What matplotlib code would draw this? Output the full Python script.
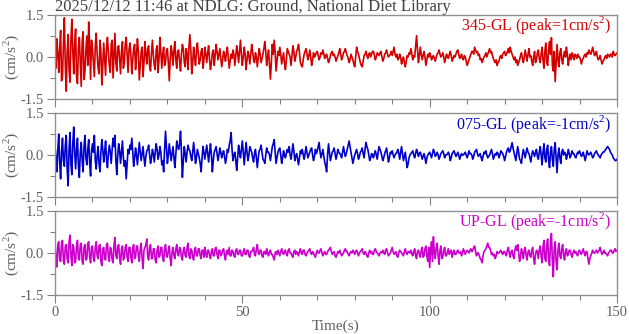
import matplotlib.pyplot as plt
import numpy as np
from matplotlib.ticker import MultipleLocator

DT = 0.25  # sample step (s)

# 345-GL, cm/s^2, one value every 0.25 s from 0 to 150 s
ns_345 = [
    0.05, -0.4, 0.65, 0.1, -0.55, 0.3, 0.95, -0.85, -0.7, 0.5, 1.40, -0.3, -1.22, 0.2, 0.8, -0.45, -0.9, 0.6, 1.35, 0.2,
    -0.6, 0.45, 1.0, -0.7, -0.95, 0.3, 0.7, -0.2, -1.05, 0.55, 0.9, -0.8, -0.5, 0.25, 0.75, -0.3, 1.25, 0.4, -0.8, 0.6,
    0.3, -0.2, -0.7, 0.4, 0.85, 0.1, -0.4, -0.6, 0.6, 0.2, -1.0, -0.3, 0.5, -0.1, -0.65, 0.3, 0.7, 0.15, -0.3, -0.55,
    0.45, 0.6, -0.75, 0.1, 0.85, -0.2, -0.5, 0.35, 0.4, -0.1, -0.6, 0.2, 0.55, -0.4, -0.2, 0.45, 0.7, 0.1, -0.55, 0.25,
    0.5, 0.1, -0.6, -0.1, 0.3, 0.45, -0.45, 0.05, 0.65, 0.2, -0.82, -0.3, 0.2, 0.35, -0.7, -0.2, 0.55, 0.1, -0.25, 0.3,
    0.4, -0.35, -0.5, 0.15, 0.6, 0.05, -0.3, -0.45, 0.25, 0.4, -0.55, -0.1, 0.7, 0.2, -0.4, 0.1, 0.35, -0.3, -0.2, 0.25,
    0.3, -0.2, -0.85, -0.1, 0.4, 0.15, -0.3, 0.25, 0.55, -0.1, -0.4, 0.2, 0.25, -0.15, -0.5, 0.1, 0.45, 0.3, -0.2, -0.35,
    0.3, 0.1, -0.45, 0.35, 0.8, 0.25, -0.6, -0.2, 0.35, 0.0, -0.3, 0.2, 0.5, 0.1, -0.25, -0.1, 0.2, 0.3, -0.4, -0.1,
    0.35, 0.1, -0.2, 0.15, 0.4, -0.1, -0.45, -0.2, 0.15, 0.25, -0.3, 0.05, 0.45, 0.2, -0.1, 0.1, 0.3, -0.05, -0.35, -0.1,
    0.2, 0.05, -0.15, 0.15, 0.35, 0.0, -0.4, -0.15, 0.1, -0.05, 0.25, 0.1, -0.3, 0.05, 0.4, 0.15, -0.2, 0.2, 0.6, 0.1,
    -0.3, 0.0, 0.35, 0.1, -0.45, -0.1, 0.2, 0.05, -0.25, 0.1, 0.45, 0.2, -0.1, -0.2, 0.15, 0.0, -0.35, -0.05, 0.3, 0.1,
    -0.2, -0.05, 0.1, 0.3, 0.55, 0.2, -0.3, 0.0, 0.25, -0.3, -0.79, -0.2, 0.45, 0.1, 0.6, 0.2, -0.5, -0.15, 0.2, 0.05,
    0.35, 0.1, -0.25, -0.05, 0.15, -0.2, -0.45, -0.1, 0.3, 0.2, 0.1, 0.0, -0.3, 0.05, 0.4, 0.2, -0.15, 0.0, 0.2, 0.3,
    0.45, 0.15, -0.2, -0.3, -0.35, -0.1, 0.1, 0.2, 0.3, 0.1, -0.1, 0.05, 0.25, 0.0, -0.3, -0.1, 0.15, 0.0, 0.05, 0.15,
    0.2, 0.05, -0.1, 0.0, 0.15, 0.1, 0.25, 0.1, -0.05, 0.05, 0.1, -0.05, -0.2, -0.1, 0.05, 0.15, 0.2, 0.05, 0.1, 0.0,
    -0.15, -0.05, 0.05, 0.15, 0.3, 0.1, -0.1, 0.0, 0.15, 0.2, 0.3, 0.15, 0.05, -0.05, -0.2, -0.1, 0.1, 0.0, -0.1, -0.25,
    -0.35, 0.0, 0.35, 0.2, 0.1, -0.05, -0.2, -0.3, -0.35, -0.15, 0.05, 0.1, 0.2, 0.05, -0.05, 0.1, 0.15, 0.0, 0.1, 0.2,
    0.2, 0.05, -0.1, 0.0, 0.15, 0.1, 0.05, 0.15, 0.2, 0.0, -0.15, -0.05, 0.1, 0.15, 0.25, 0.1, 0.0, 0.05, 0.1, 0.2,
    0.05, 0.2, 0.35, 0.1, 0.0, 0.1, -0.1, -0.05, 0.1, 0.0, -0.25, -0.1, 0.0, -0.2, -0.35, -0.15, 0.05, 0.0, 0.15, 0.1,
    0.3, 0.1, -0.1, 0.05, 0.0, 0.4, 0.76, 0.3, -0.2, 0.05, 0.35, 0.1, -0.1, 0.05, 0.2, 0.0, -0.3, -0.1, 0.1, 0.0,
    0.15, 0.05, -0.1, 0.0, 0.05, -0.05, -0.15, 0.0, 0.1, 0.15, 0.25, 0.1, 0.0, 0.05, 0.15, 0.0, -0.2, -0.05, 0.1, 0.0,
    -0.05, 0.1, 0.2, 0.05, -0.15, -0.05, 0.05, 0.0, 0.1, 0.2, 0.25, 0.1, -0.05, 0.0, 0.1, -0.05, -0.1, 0.05, 0.0, -0.15,
    -0.3, -0.2, -0.1, 0.0, 0.1, 0.2, 0.2, 0.1, 0.35, 0.25, 0.15, 0.2, 0.05, 0.1, -0.1, -0.05, -0.2, -0.1, 0.0, 0.05,
    0.15, 0.0, 0.1, 0.2, 0.3, 0.15, 0.2, 0.05, -0.05, -0.15, -0.2, -0.1, -0.3, -0.2, -0.15, 0.0, 0.05, -0.05, 0.1, 0.15,
    0.2, 0.05, 0.1, 0.2, 0.3, 0.15, 0.35, 0.2, 0.1, 0.0, -0.1, 0.0, -0.2, -0.1, -0.3, -0.2, -0.1, 0.05, 0.15, -0.05,
    -0.2, 0.0, 0.25, 0.05, -0.15, 0.1, 0.3, 0.0, 0.05, -0.15, -0.3, 0.0, 0.2, -0.2, -0.1, 0.15, 0.25, -0.05, -0.2, 0.1,
    0.35, -0.1, -0.4, 0.2, 0.5, -0.2, -0.3, 0.3, 0.55, 0.1, 0.69, -0.3, -0.5, 0.2, -0.88, -0.2, 0.45, -0.1, -0.35, 0.15,
    0.3, -0.1, -0.25, 0.05, 0.2, 0.0, 0.35, 0.1, -0.3, -0.05, 0.1, -0.1, 0.15, 0.05, -0.1, 0.1, 0.05, -0.05, 0.1, 0.0,
    0.0, -0.1, -0.25, -0.1, -0.05, 0.05, 0.1, 0.0, 0.15, 0.1, 0.25, 0.15, 0.1, 0.2, 0.35, 0.2, 0.05, 0.1, 0.2, 0.0,
    -0.1, -0.05, 0.05, -0.1, -0.25, -0.15, -0.1, 0.0, 0.05, -0.05, 0.1, 0.05, 0.0, 0.1, 0.1, 0.0, 0.2, 0.1, 0.05, 0.1,
    0.15,
]

# 075-GL
ew_075 = [
    0.3, -0.1, -0.6, 0.2, 0.75, -0.3, -0.85, 0.1, 0.6, -0.2, -0.4, 0.35, 0.7, -0.5, -1.1, 0.2, 0.8, -0.3, -0.7, 0.4,
    1.0, 0.1, -0.5, 0.2, 0.6, -0.4, -0.8, 0.1, 0.45, -0.2, -0.6, 0.3, 0.7, -0.1, -0.35, 0.2, 0.55, -0.3, -0.75, 0.15,
    0.4, 0.1, 0.7, -0.2, -0.5, 0.0, 0.3, -0.3, -0.6, 0.1, 0.55, 0.2, -0.25, 0.1, 0.5, -0.15, -0.45, 0.05, 0.35, 0.1,
    -0.3, 0.2, 0.6, 0.3, 0.7, -0.2, -0.7, 0.0, 0.4, 0.15, -0.3, 0.1, 0.5, -0.1, -0.4, -0.2, -0.85, -0.3, 0.2, 0.05,
    0.35, 0.2, 0.6, 0.1, -0.4, -0.1, 0.25, 0.0, -0.35, 0.05, 0.45, 0.1, -0.2, 0.05, 0.3, -0.1, -0.4, -0.05, 0.15, 0.2,
    0.35, 0.0, -0.3, -0.1, 0.2, 0.05, -0.25, 0.1, 0.4, 0.2, -0.15, 0.0, 0.3, 0.1, -0.35, -0.2, -0.6, 0.2, 0.85, 0.3,
    -0.3, 0.0, 0.4, 0.1, -0.2, 0.05, 0.3, -0.1, -0.45, 0.0, 0.5, 0.3, 0.2, 0.4, 0.85, 0.1, -0.8, -0.2, 0.3, 0.05,
    -0.25, 0.1, 0.35, 0.2, 0.15, -0.05, -0.2, 0.1, 0.45, 0.1, -0.3, -0.1, 0.2, 0.05, -0.1, -0.3, -0.6, -0.1, 0.3, 0.1,
    -0.15, 0.1, 0.35, 0.05, -0.25, 0.1, 0.4, 0.0, -0.6, -0.2, 0.1, 0.2, 0.3, 0.05, -0.2, 0.0, 0.25, 0.1, -0.1, 0.05,
    0.15, -0.05, -0.3, -0.1, 0.2, 0.1, 0.35, 0.5, 0.8, 0.2, -0.2, 0.0, 0.1, -0.2, -0.55, -0.1, 0.35, 0.1, -0.1, 0.2,
    0.5, 0.1, -0.35, 0.05, 0.45, 0.1, -0.2, 0.0, 0.3, 0.2, 0.1, -0.1, -0.25, 0.05, 0.2, -0.1, -0.45, -0.1, 0.15, 0.2,
    0.35, 0.1, -0.15, -0.2, -0.3, 0.0, 0.25, 0.1, 0.1, 0.0, -0.2, 0.05, 0.3, 0.4, 0.55, 0.1, -0.3, -0.1, 0.1, 0.2,
    0.25, 0.0, -0.3, -0.1, 0.15, 0.0, -0.1, 0.05, 0.2, 0.1, 0.3, 0.0, -0.15, 0.1, 0.4, 0.15, -0.2, -0.05, 0.05, -0.15,
    -0.35, -0.1, 0.15, 0.05, 0.2, 0.0, -0.15, 0.05, 0.3, 0.1, -0.1, 0.0, 0.1, 0.2, 0.25, 0.0, -0.2, -0.05, 0.2, 0.05,
    0.15, 0.3, 0.45, 0.1, -0.1, 0.05, 0.2, -0.05, -0.25, -0.4, -0.6, 0.0, 0.4, 0.1, -0.2, -0.05, 0.1, 0.15, 0.25, 0.05,
    -0.15, 0.0, 0.2, 0.1, 0.05, 0.0, -0.1, 0.1, 0.3, 0.1, -0.05, 0.05, 0.2, 0.35, 0.5, 0.3, 0.1, -0.1, -0.3, -0.15,
    0.0, 0.1, 0.2, 0.05, -0.15, -0.05, 0.1, 0.15, 0.25, 0.05, -0.1, 0.2, 0.45, 0.3, 0.2, 0.0, -0.2, -0.1, 0.05, 0.0,
    -0.1, 0.05, 0.15, 0.0, -0.15, 0.1, 0.3, 0.2, 0.1, -0.05, -0.2, -0.1, 0.05, 0.15, 0.25, 0.0, -0.25, -0.1, 0.1, 0.05,
    0.15, 0.0, -0.1, 0.0, 0.05, 0.1, 0.2, 0.05, -0.15, 0.1, 0.3, 0.05, -0.2, -0.05, 0.1, -0.2, -0.45, -0.3, -0.1, 0.0,
    0.05, 0.1, 0.15, 0.0, -0.1, 0.05, 0.2, 0.1, -0.05, 0.05, 0.1, 0.0, -0.15, -0.05, 0.05, -0.1, -0.3, -0.1, 0.0, 0.05,
    0.1, 0.0, -0.1, 0.05, 0.2, 0.1, -0.05, 0.0, 0.1, 0.0, -0.15, -0.05, 0.05, 0.1, 0.15, 0.05, -0.1, 0.0, 0.0, 0.05,
    0.1, 0.0, -0.2, -0.1, 0.05, 0.1, 0.15, 0.05, -0.05, 0.0, 0.1, 0.0, -0.15, -0.05, 0.05, 0.0, 0.0, 0.05, 0.1, 0.0,
    -0.1, 0.0, 0.15, 0.05, 0.05, 0.0, -0.15, -0.05, 0.1, 0.15, 0.2, 0.05, -0.05, 0.0, 0.05, -0.1, -0.2, -0.05, 0.1, 0.05,
    0.15, 0.0, -0.1, -0.05, 0.0, 0.1, 0.2, 0.05, -0.15, -0.05, 0.05, 0.0, 0.1, 0.05, -0.1, 0.0, 0.15, 0.1, 0.05, -0.05,
    -0.2, -0.05, 0.1, 0.2, 0.25, 0.1, 0.15, 0.3, 0.44, 0.25, 0.1, -0.05, -0.2, 0.05, 0.3, 0.1, -0.15, -0.2, -0.3, 0.0,
    0.2, 0.05, -0.1, 0.1, 0.25, 0.1, 0.05, -0.1, -0.25, 0.0, 0.15, 0.05, -0.05, 0.1, 0.2, -0.05, -0.15, 0.1, 0.3, 0.0,
    -0.35, 0.1, 0.4, -0.1, -0.25, 0.2, 0.35, -0.2, -0.45, 0.1, 0.3, -0.15, -0.4, 0.2, 0.44, -0.1, -0.63, 0.0, 0.25, -0.1,
    -0.3, 0.1, 0.2, 0.0, 0.1, 0.05, -0.15, 0.0, 0.2, 0.05, -0.1, 0.0, 0.15, 0.05, 0.05, -0.05, -0.1, 0.0, 0.1, 0.05,
    0.15, 0.05, -0.05, 0.0, 0.1, -0.05, -0.2, -0.05, 0.15, 0.05, 0.0, 0.05, 0.1, 0.0, -0.1, -0.05, 0.05, 0.1, 0.15, 0.05,
    0.0, -0.05, -0.1, 0.0, 0.05, 0.1, 0.1, 0.15, 0.2, 0.25, 0.3, 0.25, 0.2, 0.1, 0.05, 0.0, -0.1, -0.15, -0.2, -0.2,
    -0.15,
]

# UP-GL
ud_up = [
    0.35, -0.2, -0.5, 0.3, 0.4, -0.25, -0.3, 0.35, 0.45, -0.3, -0.4, 0.25, 0.3, -0.2, -0.35, 0.4, 0.64, -0.1, -0.45, 0.3,
    0.2, -0.35, -0.3, 0.25, 0.45, -0.2, -0.25, 0.3, 0.35, -0.3, -0.4, 0.2, 0.3, -0.25, -0.2, 0.35, 0.4, -0.15, -0.35, 0.2,
    0.25, -0.2, -0.3, 0.2, 0.4, -0.1, -0.2, 0.25, 0.3, -0.3, -0.45, 0.15, 0.2, -0.2, -0.25, 0.3, 0.35, -0.15, -0.3, 0.2,
    0.15, -0.25, -0.35, 0.3, 0.55, -0.1, -0.2, 0.25, 0.3, -0.2, -0.4, 0.15, 0.25, -0.25, -0.15, 0.2, 0.3, -0.15, -0.3, 0.2,
    0.2, -0.15, -0.35, 0.2, 0.3, -0.2, -0.15, 0.25, 0.25, -0.1, -0.3, 0.15, 0.35, -0.2, -0.55, 0.1, 0.2, 0.3, 0.5, -0.15,
    -0.25, 0.2, 0.3, -0.2, -0.2, 0.15, 0.15, -0.25, -0.35, 0.1, 0.25, -0.15, -0.1, 0.2, 0.2, -0.2, -0.3, 0.15, 0.3, -0.1,
    -0.15, 0.1, 0.25, -0.2, -0.45, 0.05, 0.2, -0.1, -0.2, 0.15, 0.3, -0.05, -0.1, 0.2, 0.15, -0.15, -0.25, 0.1, 0.2, -0.1,
    -0.15, 0.2, 0.35, -0.1, -0.2, 0.15, 0.1, -0.15, -0.25, 0.1, 0.2, -0.1, -0.1, 0.15, 0.15, -0.1, -0.2, 0.1, 0.1, -0.15,
    0.2, -0.05, -0.15, 0.1, 0.1, -0.1, -0.2, 0.05, 0.15, -0.1, -0.1, 0.15, 0.2, -0.05, -0.2, 0.1, 0.1, -0.1, -0.05, 0.1,
    0.15, -0.1, -0.25, 0.05, 0.1, -0.05, 0.2, -0.1, -0.1, 0.1, 0.05, -0.1, -0.15, 0.1, 0.15, -0.05, -0.05, 0.1, 0.1, -0.1,
    -0.1, 0.05, 0.15, -0.05, -0.05, 0.1, 0.1, -0.1, -0.15, 0.05, 0.05, 0.1, 0.2, -0.05, -0.1, 0.15, 0.3, 0.0, -0.05, 0.1,
    0.1, -0.1, -0.15, 0.05, 0.05, -0.05, 0.15, 0.0, -0.1, 0.05, 0.1, -0.05, -0.05, -0.15, -0.25, 0.0, 0.05, -0.05, 0.1, 0.0,
    -0.1, 0.05, 0.15, 0.0, -0.05, 0.05, 0.1, -0.05, -0.1, 0.1, 0.15, 0.0, 0.0, -0.1, -0.15, 0.05, 0.1, -0.05, 0.05, 0.0,
    -0.1, 0.05, 0.15, 0.0, -0.05, 0.1, 0.1, -0.05, -0.1, 0.0, 0.05, 0.1, 0.15, 0.0, -0.05, 0.05, 0.0, -0.1, -0.15, 0.0,
    0.1, 0.0, 0.0, 0.1, 0.15, 0.0, -0.1, 0.0, 0.05, -0.05, -0.05, 0.05, 0.1, 0.15, 0.2, 0.05, -0.05, 0.0, 0.05, -0.1,
    -0.15, -0.05, 0.05, 0.0, 0.1, 0.0, -0.1, -0.05, 0.0, 0.1, 0.15, 0.05, 0.05, -0.05, -0.1, 0.0, 0.05, 0.0, 0.1, 0.05,
    -0.05, 0.05, 0.1, 0.0, -0.1, 0.0, 0.05, 0.1, 0.15, 0.0, -0.05, 0.05, 0.0, -0.1, -0.15, 0.0, 0.1, 0.0, 0.05, -0.05,
    -0.05, 0.1, 0.15, 0.05, 0.0, -0.05, -0.1, 0.0, 0.05, 0.0, 0.1, 0.0, -0.05, 0.1, 0.15, 0.0, -0.1, -0.05, 0.0, 0.1,
    0.2, 0.05, -0.05, 0.0, 0.05, -0.1, -0.15, 0.0, 0.1, 0.05, 0.0, -0.05, -0.1, 0.05, 0.15, 0.0, -0.05, 0.05, 0.05, 0.0,
    0.1, -0.05, -0.1, 0.05, 0.15, -0.1, -0.2, 0.05, 0.1, -0.05, -0.15, 0.1, 0.2, -0.15, -0.1, 0.15, 0.25, -0.1, -0.3, 0.2,
    -0.52, 0.1, 0.4, -0.3, 0.58, 0.0, -0.2, 0.2, 0.35, -0.1, -0.4, 0.1, 0.25, -0.2, -0.15, 0.1, 0.2, -0.1, -0.1, 0.05,
    0.15, -0.05, 0.05, 0.1, -0.15, 0.0, 0.1, -0.05, -0.05, 0.05, 0.1, 0.0, 0.0, 0.05, -0.1, 0.0, 0.15, 0.05, -0.05, 0.05,
    0.1, 0.05, 0.0, 0.1, 0.15, 0.05, 0.1, 0.2, 0.25, 0.05, -0.1, 0.0, 0.0, -0.1, -0.2, -0.25, -0.35, -0.1, 0.05, 0.1,
    0.15, 0.25, 0.35, 0.2, 0.2, 0.1, -0.05, 0.0, -0.1, -0.05, -0.2, -0.1, 0.05, 0.0, 0.0, 0.05, 0.1, 0.0, -0.05, 0.05,
    0.05, -0.05, -0.1, 0.1, 0.2, 0.0, -0.15, 0.05, 0.1, -0.1, -0.2, 0.1, 0.25, 0.1, 0.3, 0.0, -0.3, -0.1, 0.15, 0.0,
    -0.2, 0.1, 0.2, -0.1, -0.25, 0.05, 0.1, -0.1, -0.15, 0.1, 0.2, -0.2, -0.4, -0.05, 0.1, 0.05, -0.2, 0.1, 0.25, -0.1,
    -0.35, 0.2, 0.45, -0.2, -0.3, 0.3, 0.5, -0.25, -0.45, 0.4, 0.7, -0.3, -0.85, 0.2, 0.4, -0.3, -0.6, 0.1, 0.35, -0.1,
    -0.2, 0.15, 0.3, -0.1, -0.25, 0.05, 0.15, -0.1, -0.05, 0.1, 0.1, -0.05, -0.15, 0.0, 0.1, 0.0, 0.05, -0.05, -0.1, 0.05,
    0.1, 0.0, -0.05, 0.05, 0.15, 0.0, -0.1, 0.05, 0.05, -0.2, -0.4, -0.2, -0.1, 0.0, 0.1, 0.0, 0.0, 0.05, 0.1, 0.0,
    0.05, 0.1, 0.2, 0.05, -0.05, 0.0, 0.1, 0.0, 0.0, -0.05, -0.1, 0.0, 0.05, 0.1, 0.1, 0.0, 0.0, 0.1, 0.15, 0.05,
    0.1,
]

labels = ["345-GL (peak=1cm/s$^2$)", "075-GL (peak=-1cm/s$^2$)", "UP-GL (peak=-1cm/s$^2$)"]
colors = ["#d40000", "#0000cc", "#cc00cc"]
traces = [ns_345, ew_075, ud_up]

TXT = "#606060"
plt.rcParams["font.family"] = ["Liberation Serif", "DejaVu Serif"]
plt.rcParams["font.size"] = 10.5
plt.rcParams["mathtext.fontset"] = "custom"
plt.rcParams["mathtext.rm"] = "Liberation Serif"

W, H = 629, 334
fig = plt.figure(figsize=(W / 100, H / 100), dpi=100)

left, right = 55 / W, 617 / W
tops = [15, 113, 211]
axh = 84

for i, (y, lab, c) in enumerate(zip(traces, labels, colors)):
    ax = fig.add_axes([left, 1 - (tops[i] + axh) / H, right - left, axh / H])
    t = np.arange(len(y)) * DT
    ax.plot(t, y, color=c, lw=1.2)
    ax.set_xlim(0, 150)
    ax.set_ylim(-1.5, 1.5)
    ax.set_yticks([-1.5, 0, 1.5])
    ax.set_yticklabels(["-1.5", "0.0", "1.5"])
    ax.yaxis.set_minor_locator(MultipleLocator(0.75))
    ax.set_xticks([0, 50, 100, 150])
    ax.xaxis.set_minor_locator(MultipleLocator(10))
    ax.tick_params(which="major", length=6, width=0.8, color="#808080", labelcolor=TXT, pad=2)
    ax.tick_params(which="minor", length=3.5, width=0.8, color="#808080")
    ax.tick_params(top=False, right=False, which="both")
    if i < 2:
        ax.tick_params(labelbottom=False)
    for s in ax.spines.values():
        s.set_color("#909090")
        s.set_linewidth(1.0)
    ax.text(0.99, 0.875, lab, color=c, ha="right", va="center", fontsize=11.5,
            transform=ax.transAxes)
    # y label placed by hand so it sits near the left edge like the original
    fig.text(11 / W, 1 - (tops[i] + axh / 2) / H, "(cm/s$^2$)", rotation=90,
             ha="center", va="center", color=TXT, fontsize=11)

fig.text(left, 1 - 11 / H, "2025/12/12 11:46 at NDLG: Ground, National Diet Library",
         color="#404040", ha="left", va="baseline", fontsize=12)
fig.text(336 / W, 1 - 326 / H, "Time(s)", color=TXT, ha="center", va="center", fontsize=11)

fig.savefig("out.png", dpi=100)
